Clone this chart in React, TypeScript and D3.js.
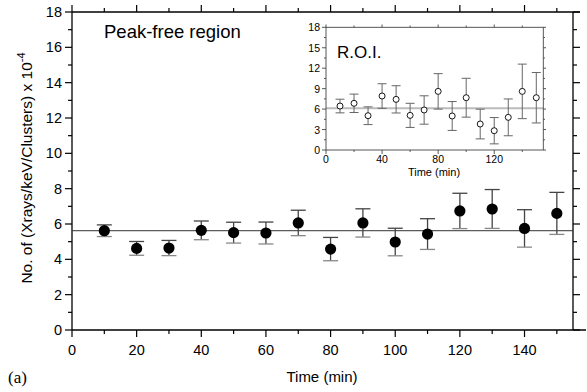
import React from "react";
import * as d3 from "d3";

const times = [10, 20, 30, 40, 50, 60, 70, 80, 90, 100, 110, 120, 130, 140, 150];
const mainValues = [5.62, 4.62, 4.64, 5.64, 5.51, 5.49, 6.06, 4.58, 6.06, 4.98, 5.43, 6.74, 6.85, 5.75, 6.6];
const mainErrors = [0.33, 0.39, 0.43, 0.53, 0.59, 0.62, 0.72, 0.66, 0.8, 0.78, 0.87, 1.0, 1.1, 1.06, 1.19];
const mainMean = 5.62;
const insetValues = [6.45, 6.85, 5.03, 7.92, 7.43, 5.08, 5.87, 8.6, 4.99, 7.67, 3.81, 2.83, 4.79, 8.6, 7.67];
const insetErrors = [1.0, 1.35, 1.3, 1.8, 2.0, 1.77, 2.08, 2.6, 2.12, 2.85, 2.18, 1.93, 2.7, 4.0, 3.7];
const insetMean = 6.11;
const mainXTicks = [0, 20, 40, 60, 80, 100, 120, 140];
const mainYTicks = [0, 2, 4, 6, 8, 10, 12, 14, 16, 18];
const insetXTicks = [0, 40, 80, 120];
const insetYTicks = [0, 3, 6, 9, 12, 15, 18];

const SANS = "'Liberation Sans', Arial, Helvetica, sans-serif";

export default function App() {
  const x = d3.scaleLinear().domain([0, 155]).range([72, 573]);
  const y = d3.scaleLinear().domain([0, 18]).range([330, 12]);
  const ix = d3.scaleLinear().domain([0, 155]).range([326, 543.3]);
  const iy = d3.scaleLinear().domain([0, 18]).range([150, 27.3]);

  const mainXMinor = d3.range(0, 156, 10).filter((v) => v % 20 !== 0);
  const mainYMinor = d3.range(1, 18, 2);
  const insetXMinor = d3.range(20, 156, 40);
  const insetYMinor = d3.range(1.5, 18, 3);

  return (
    <svg width={587} height={392} style={{ position: "absolute", left: 0, top: 0, background: "#fff" }}>
      <rect x={0} y={0} width={587} height={392} fill="#fff" />
      {/* Main frame */}
      <g stroke="#000" strokeWidth={1.3} fill="none">
        <line x1={72} y1={330} x2={586} y2={330} />
        <line x1={72} y1={12} x2={580} y2={12} />
        <line x1={72} y1={12} x2={72} y2={330} />
        <line x1={573} y1={12} x2={573} y2={330} />
      </g>
      {/* main ticks */}
      <g stroke="#000" strokeWidth={1.2}>
        {mainXTicks.map((t) => (
          <g key={"mx" + t}>
            <line x1={x(t)} x2={x(t)} y1={330} y2={337} />
            <line x1={x(t)} x2={x(t)} y1={12} y2={5} />
          </g>
        ))}
        {mainXMinor.map((t) => (
          <g key={"mxm" + t}>
            <line x1={x(t)} x2={x(t)} y1={330} y2={334} />
            <line x1={x(t)} x2={x(t)} y1={12} y2={8} />
          </g>
        ))}
        {mainYTicks.map((t) => (
          <g key={"my" + t}>
            <line x1={72} x2={65} y1={y(t)} y2={y(t)} />
            <line x1={573} x2={580} y1={y(t)} y2={y(t)} />
          </g>
        ))}
        {mainYMinor.map((t) => (
          <g key={"mym" + t}>
            <line x1={72} x2={68} y1={y(t)} y2={y(t)} />
            <line x1={573} x2={577} y1={y(t)} y2={y(t)} />
          </g>
        ))}
      </g>
      <g fontFamily={SANS} fontSize={14.5} fill="#000">
        {mainXTicks.map((t) => (
          <text key={"mxl" + t} x={x(t)} y={355} textAnchor="middle">
            {t}
          </text>
        ))}
        {mainYTicks.map((t) => (
          <text key={"myl" + t} x={62} y={y(t) + 5} textAnchor="end">
            {t}
          </text>
        ))}
        <text x={322} y={382} textAnchor="middle" fontSize={15}>
          Time (min)
        </text>
        <text transform="translate(32,168) rotate(-90)" textAnchor="middle" fontSize={15.5}>
          No. of (Xrays/keV/Clusters) x 10
          <tspan dy={-7} fontSize={11}>-4</tspan>
        </text>
        <text x={104} y={38} fontSize={18.5}>
          Peak-free region
        </text>
      </g>
      <text x={8} y={383} fontFamily="'Liberation Serif', 'Times New Roman', serif" fontSize={17}>
        (a)
      </text>
      {/* main mean line */}
      <line x1={72} x2={573} y1={y(mainMean)} y2={y(mainMean)} stroke="#333" strokeWidth={1} />
      {/* main error bars */}
      <g stroke="#444" strokeWidth={1.3}>
        {times.map((t, i) => (
          <g key={"me" + t}>
            <line x1={x(t)} x2={x(t)} y1={y(mainValues[i] + mainErrors[i])} y2={y(mainValues[i] - mainErrors[i])} />
            <line x1={x(t) - 7.5} x2={x(t) + 7.5} y1={y(mainValues[i] + mainErrors[i])} y2={y(mainValues[i] + mainErrors[i])} />
            <line x1={x(t) - 7.5} x2={x(t) + 7.5} y1={y(mainValues[i] - mainErrors[i])} y2={y(mainValues[i] - mainErrors[i])} stroke="#888" />
          </g>
        ))}
      </g>
      <g fill="#000">
        {times.map((t, i) => (
          <circle key={"mc" + t} cx={x(t)} cy={y(mainValues[i])} r={5.6} />
        ))}
      </g>
      {/* Inset */}
      <rect x={326} y={27.3} width={217.3} height={122.7} fill="#fff" stroke="none" />
      <line x1={326} x2={543.3} y1={iy(insetMean)} y2={iy(insetMean)} stroke="#bbb" strokeWidth={2} />
      <g stroke="#444" strokeWidth={0.9} fill="none">
        <rect x={326} y={27.3} width={217.3} height={122.7} />
        {insetXTicks.map((t) => (
          <g key={"ix" + t}>
            <line x1={ix(t)} x2={ix(t)} y1={150} y2={154} />
            <line x1={ix(t)} x2={ix(t)} y1={27.3} y2={24.5} />
          </g>
        ))}
        {insetXMinor.map((t) => (
          <g key={"ixm" + t}>
            <line x1={ix(t)} x2={ix(t)} y1={150} y2={152} />
            <line x1={ix(t)} x2={ix(t)} y1={27.3} y2={25.5} />
          </g>
        ))}
        {insetYTicks.map((t) => (
          <g key={"iy" + t}>
            <line x1={326} x2={322} y1={iy(t)} y2={iy(t)} />
            <line x1={543.3} x2={546} y1={iy(t)} y2={iy(t)} />
          </g>
        ))}
        {insetYMinor.map((t) => (
          <g key={"iym" + t}>
            <line x1={326} x2={324} y1={iy(t)} y2={iy(t)} />
            <line x1={543.3} x2={545} y1={iy(t)} y2={iy(t)} />
          </g>
        ))}
      </g>
      <g fontFamily={SANS} fontSize={10.5} fill="#000">
        {insetXTicks.map((t) => (
          <text key={"ixl" + t} x={ix(t)} y={163} textAnchor="middle">
            {t}
          </text>
        ))}
        {insetYTicks.map((t) => (
          <text key={"iyl" + t} x={320} y={iy(t) + 4} textAnchor="end">
            {t}
          </text>
        ))}
        <text x={434} y={176} textAnchor="middle" fontSize={11}>
          Time (min)
        </text>
        <text x={337} y={58} fontSize={17}>
          R.O.I.
        </text>
      </g>
      <g stroke="#666" strokeWidth={1}>
        {times.map((t, i) => (
          <g key={"ie" + t}>
            <line x1={ix(t)} x2={ix(t)} y1={iy(insetValues[i] + insetErrors[i])} y2={iy(insetValues[i] - insetErrors[i])} />
            <line x1={ix(t) - 4.5} x2={ix(t) + 4.5} y1={iy(insetValues[i] + insetErrors[i])} y2={iy(insetValues[i] + insetErrors[i])} />
            <line x1={ix(t) - 4.5} x2={ix(t) + 4.5} y1={iy(insetValues[i] - insetErrors[i])} y2={iy(insetValues[i] - insetErrors[i])} />
          </g>
        ))}
      </g>
      <g fill="#fff" stroke="#000" strokeWidth={0.9}>
        {times.map((t, i) => (
          <circle key={"ic" + t} cx={ix(t)} cy={iy(insetValues[i])} r={3} />
        ))}
      </g>
    </svg>
  );
}
